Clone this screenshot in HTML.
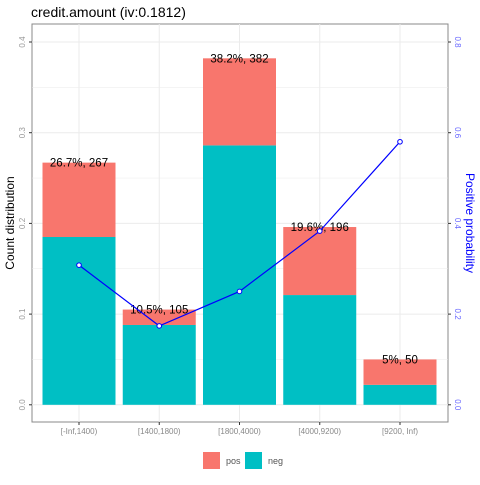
<!DOCTYPE html>
<html><head><meta charset="utf-8"><style>
body{margin:0;background:#fff}
svg text{font-family:"Liberation Sans",sans-serif}
</style></head><body>
<svg id="c" width="480" height="480" xmlns="http://www.w3.org/2000/svg">
<text x="31" y="17" font-size="14" fill="#000">credit.amount  (iv:0.1812)</text>
<rect x="32" y="24" width="416" height="398" fill="none" stroke="#888" stroke-width="1"/>
<g id="grid"></g><g id="bars"></g><g id="line"></g><g id="axes"></g>
<text transform="translate(14,223) rotate(-90)" text-anchor="middle" font-size="12">Count distribution</text>
<text transform="translate(466,223) rotate(90)" text-anchor="middle" font-size="12" fill="#0000ff">Positive probability</text>
<rect x="203" y="452" width="17" height="17" fill="#F8766D"/>
<text x="226" y="464" font-size="9" fill="#555">pos</text>
<rect x="245" y="452" width="17" height="17" fill="#00BFC4"/>
<text x="268" y="464" font-size="9" fill="#555">neg</text>
</svg>
<script>
const categories=["[-Inf,1400)","[1400,1800)","[1800,4000)","[4000,9200)","[9200, Inf)"];
const negValues=[0.185,0.088,0.286,0.121,0.022];
const posValues=[0.082,0.017,0.096,0.075,0.028];
const barLabels=["26.7%, 267","10.5%, 105","38.2%, 382","19.6%, 196","5%, 50"];
const posProb=[0.308,0.174,0.25,0.383,0.58];
const leftTicks=[0,0.1,0.2,0.3,0.4];
const rightTicks=[0,0.2,0.4,0.6,0.8];
const NS="http://www.w3.org/2000/svg";
const y=v=>404.8-v*907;
const y2=v=>404.8-v*453.5;
const x=i=>79+80.25*i;
const bw=73;
function mk(t,a,p){const e=document.createElementNS(NS,t);for(const k in a)e.setAttribute(k,a[k]);document.getElementById(p).appendChild(e);return e;}
for(let v=0;v<=0.4001;v+=0.05){
 const g=mk('line',{x1:32,x2:448,y1:y(v),y2:y(v),stroke:'#ebebeb','stroke-width':Math.round(v*100)%10===0?1:0.5},'grid');
 
 
}
categories.forEach((c,i)=>{
 const g=mk('line',{x1:x(i),x2:x(i),y1:24,y2:422,stroke:'#ebebeb'},'grid');
 
 
 const n=mk('rect',{x:x(i)-bw/2,y:y(negValues[i]),width:bw,height:y(0)-y(negValues[i]),fill:'#00BFC4'},'bars');
 
 
 const tot=negValues[i]+posValues[i];
 const p=mk('rect',{x:x(i)-bw/2,y:y(tot),width:bw,height:y(negValues[i])-y(tot),fill:'#F8766D'},'bars');
 
 
 const t=mk('text',{x:x(i),y:y(tot)+4,'text-anchor':'middle','font-size':11.5,fill:'#000'},'bars');
 t.textContent=barLabels[i];
 
 
 const xl=mk('text',{x:x(i),y:434,'text-anchor':'middle','font-size':8,fill:'#888'},'axes');
 xl.textContent=c;
 
 
 const tk=mk('line',{x1:x(i),x2:x(i),y1:422,y2:425,stroke:'#333'},'axes');
 
 
});
const pl=mk('polyline',{points:posProb.map((v,i)=>x(i)+','+y2(v)).join(' '),fill:'none',stroke:'#0000ff','stroke-width':1.2},'line');


posProb.forEach((v,i)=>{
 const c=mk('circle',{cx:x(i),cy:y2(v),r:2.3,fill:'#fff',stroke:'#0000ff','stroke-width':1},'line');
 
 
});
leftTicks.forEach(v=>{
 const t=mk('text',{transform:`translate(25,${y(v)}) rotate(-90)`,'text-anchor':'middle','font-size':8,fill:'#999'},'axes');
 t.textContent=v.toFixed(1);
 
 
 const k=mk('line',{x1:29,x2:32,y1:y(v),y2:y(v),stroke:'#333'},'axes');
 
 
});
rightTicks.forEach(v=>{
 const t=mk('text',{transform:`translate(455,${y2(v)}) rotate(90)`,'text-anchor':'middle','font-size':8,fill:'#6666ff'},'axes');
 t.textContent=v.toFixed(1);
 
 
 const k=mk('line',{x1:448,x2:451,y1:y2(v),y2:y2(v),stroke:'#333'},'axes');
 
 
});
</script>
</body></html>
